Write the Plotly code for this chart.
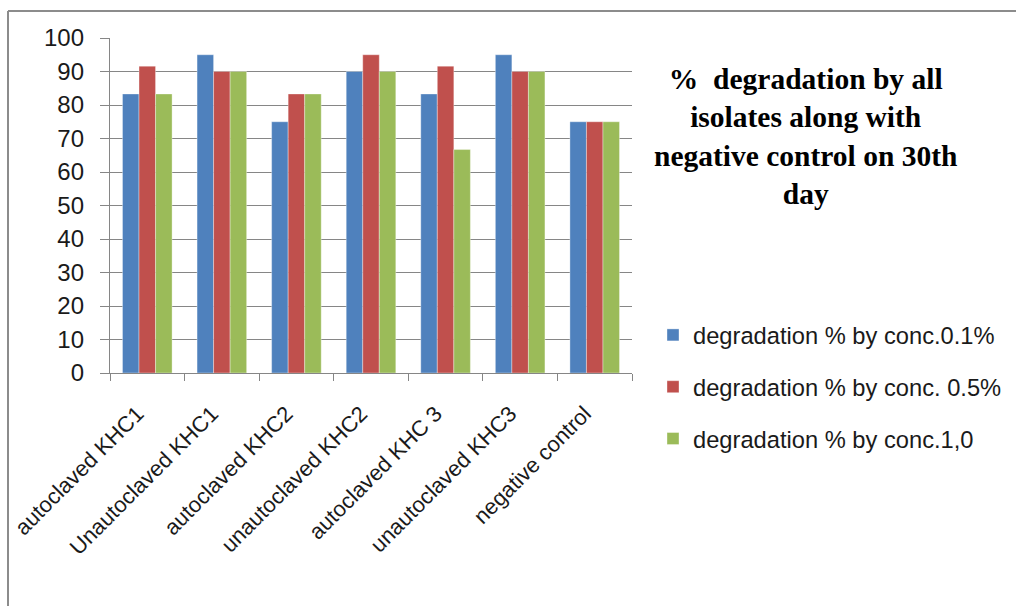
import plotly.graph_objects as go

categories = ["autoclaved KHC1", "Unautoclaved KHC1", "autoclaved KHC2", "unautoclaved KHC2",
              "autoclaved KHC 3", "unautoclaved KHC3", "negative control"]
conc_01 = [83.3, 95, 75, 90, 83.3, 95, 75]
conc_05 = [91.6, 90, 83.3, 95, 91.6, 90, 75]
conc_10 = [83.3, 90, 83.3, 90, 66.7, 90, 75]
series_names = ["degradation % by conc.0.1%", "degradation % by conc. 0.5%", "degradation % by conc.1,0"]
colors = ["#4F81BD", "#C0504D", "#9BBB59"]
y_ticks = list(range(0, 101, 10))
title_lines = ["% &nbsp;degradation by all", "isolates along with", "negative control on 30th", "day"]

fig = go.Figure()
for name, vals, col in zip(series_names, [conc_01, conc_05, conc_10], colors):
    fig.add_trace(go.Bar(x=categories, y=vals, name=name, legendgroup=name,
                         marker=dict(color=col, line=dict(color="rgba(255,255,255,0.6)", width=0.6))))

ML, MR, MT, MB = 110, 384, 38, 233
W, H = 1016, 606
PW, PH = W - ML - MR, H - MT - MB

def px(x):
    return (x - ML) / PW

def py(y):
    return (H - MB - y) / PH

grid = "#868686"
title_text = "<br>".join("<b>" + t + "</b>" for t in title_lines)
fig.update_layout(
    width=W, height=H,
    margin=dict(l=ML, r=MR, t=MT, b=MB, autoexpand=False),
    paper_bgcolor="white", plot_bgcolor="white",
    barmode="group", bargap=0.335, bargroupgap=0,
    font=dict(family="Liberation Sans", color="#000000"),
    showlegend=True,
    legend=dict(x=px(653), y=py(313), xanchor="left", yanchor="top",
                font=dict(size=23.7, color="#1a1a1a"), tracegroupgap=18,
                bgcolor="rgba(0,0,0,0)", itemclick=False),
    xaxis=dict(showline=True, linecolor=grid, linewidth=1.3, ticks="outside", ticklen=7,
               tickcolor=grid, tickson="boundaries", showgrid=False, tickangle=-45,
               ticklabelshift=-10, ticklabelstandoff=18, automargin=False,
               tickfont=dict(size=22, color="#1a1a1a")),
    yaxis=dict(range=[0, 100], tickvals=y_ticks, showline=True, linecolor=grid, linewidth=1.3,
               ticks="outside", ticklen=9, tickcolor=grid, showgrid=True, gridcolor=grid,
               gridwidth=1.3, zeroline=False, ticklabelstandoff=11, automargin=False,
               tickfont=dict(size=24, color="#1a1a1a")),
    annotations=[dict(text=title_text, xref="paper", yref="paper", x=px(805), y=py(136),
                      xanchor="center", yanchor="middle", showarrow=False, align="center",
                      font=dict(family="Liberation Serif", size=29.5, color="#000000"))],
    shapes=[dict(type="line", xref="paper", yref="paper", x0=px(8), y0=py(610), x1=px(8), y1=py(11),
                 line=dict(color="#8c8c8c", width=2)),
            dict(type="line", xref="paper", yref="paper", x0=px(8), y0=py(11), x1=px(1020), y1=py(11),
                 line=dict(color="#8c8c8c", width=2))],
)
fig.write_html("out.html")
